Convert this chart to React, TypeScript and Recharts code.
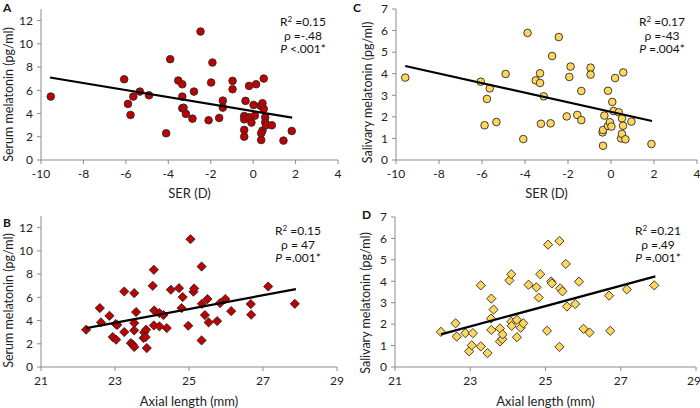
import React from 'react';
import { ScatterChart, Scatter, XAxis, YAxis } from 'recharts';

// Panel A: SER (D) vs serum melatonin
const serA = [-9.54,-6.08,-5.90,-5.78,-5.65,-5.34,-4.91,-4.10,-3.91,-3.53,-3.34,-3.34,-3.34,-3.28,-3.17,-2.79,-2.86,-2.48,-2.10,-1.98,-1.92,-1.60,-1.43,-1.43,-0.97,-0.97,-0.36,-0.42,-0.42,-0.42,-0.42,-0.19,-0.19,-0.08,0.02,0.08,0.14,0.35,0.44,0.50,0.50,0.57,0.57,0.44,0.38,0.38,0.61,0.88,1.43,1.82];
const serumA = [5.46,6.95,4.83,3.88,5.46,5.89,5.57,2.30,8.68,6.84,6.52,5.46,4.45,4.50,3.97,5.89,3.56,11.06,3.42,6.67,8.39,3.62,5.11,4.51,6.81,6.09,5.09,3.79,3.50,2.59,2.01,6.38,3.68,3.22,4.74,3.82,6.52,4.66,4.89,7.01,4.40,3.68,3.25,2.53,2.30,1.72,2.99,2.99,1.67,2.50];
const fitAX = [-9.58, 1.84];
const fitAY = [7.10, 3.65];

// Panel B: axial length vs serum melatonin
const alB = [22.22,22.59,22.62,22.85,22.94,23.03,23.02,23.06,23.25,23.25,23.43,23.48,23.52,23.52,23.52,23.52,23.57,23.77,23.79,23.84,23.83,23.86,24.02,24.05,24.06,24.05,24.20,24.20,24.31,24.40,24.51,24.73,24.80,24.83,24.98,25.04,25.12,25.14,25.34,25.35,25.34,25.43,25.50,25.53,25.76,25.84,25.98,26.14,26.67,26.68,27.14,27.86];
const serumB = [3.21,5.07,3.84,4.41,2.58,2.35,3.70,3.62,6.50,3.01,2.06,1.92,1.72,3.15,3.78,6.36,4.73,2.49,2.98,3.21,2.58,1.63,6.99,8.37,4.87,3.58,4.64,3.50,4.47,3.35,6.65,6.79,5.07,6.02,3.55,11.0,6.48,6.76,8.65,5.44,2.29,4.47,5.85,3.84,3.95,5.50,5.85,4.81,5.42,4.50,6.93,5.44];
const fitBX = [22.22, 27.89];
const fitBY = [3.35, 6.70];

// Panel C: SER (D) vs salivary melatonin
const serC = [-9.57,-6.06,-5.88,-5.77,-5.64,-5.33,-4.90,-4.08,-3.88,-3.50,-3.30,-3.30,-3.13,-3.26,-2.81,-2.74,-2.43,-2.06,-1.94,-1.88,-1.57,-1.38,-1.38,-0.95,-0.95,-0.39,-0.37,-0.37,-0.31,-0.14,-0.14,-0.05,0.02,0.06,0.12,0.19,0.36,0.47,0.51,0.51,0.56,0.57,0.67,0.95,1.88];
const salivaC = [3.82,3.63,1.61,2.83,3.32,1.76,3.99,0.97,5.89,3.69,4.02,3.57,2.95,1.68,1.70,4.82,5.70,2.02,3.85,4.33,2.09,3.20,1.85,4.28,3.96,1.28,1.39,0.66,2.06,3.21,1.58,1.75,1.55,2.69,2.27,3.80,2.21,1.00,1.93,1.21,1.59,4.06,0.96,1.78,0.74];
const fitCX = [-9.57, 1.91];
const fitCY = [4.36, 1.81];

// Panel D: axial length vs salivary melatonin
const alD = [22.22,22.61,22.64,22.87,22.97,23.04,23.07,23.28,23.28,23.46,23.55,23.56,23.56,23.62,23.79,23.79,23.85,23.86,24.04,24.09,24.09,24.10,24.24,24.24,24.34,24.41,24.55,24.76,24.82,24.86,25.04,25.07,25.15,25.17,25.37,25.37,25.39,25.45,25.54,25.57,25.79,25.89,26.01,26.17,26.69,26.72,27.16,27.89];
const salivaD = [1.64,2.04,1.42,1.58,0.73,1.01,1.58,3.81,0.96,0.65,2.26,3.19,1.73,2.68,1.80,1.19,1.30,1.52,4.04,4.33,2.11,1.92,2.20,1.39,1.83,2.04,3.84,3.72,3.24,4.33,1.69,5.71,3.99,3.90,5.88,0.94,3.67,3.53,4.81,2.82,2.94,3.98,1.78,1.61,3.33,1.69,3.62,3.81];
const fitDX = [22.22, 27.92];
const fitDY = [1.52, 4.23];

const serTicks = [-10, -8, -6, -4, -2, 0, 2, 4];
const alTicks = [21, 23, 25, 27, 29];
const serumTicks = [0, 2, 4, 6, 8, 10, 12];
const salivaTicks = [0, 1, 2, 3, 4, 5, 6, 7];

const zip = (xs: number[], ys: number[]) => xs.map((x, i) => ({ x, y: ys[i] }));

const FONT = 'Lato, "Open Sans", sans-serif';
const RED = '#C00000';
const YEL = '#FFD55C';
const AXIS = '#8c8c8c';

const Circle = (fill: string) => (p: any) => (
  <circle cx={p.cx} cy={p.cy} r={3.8} fill={fill} stroke="#2a2a2a" strokeWidth={0.9} />
);
const Diamond = (fill: string) => (p: any) => {
  const r = 4.6;
  const { cx, cy } = p;
  return (
    <polygon
      points={`${cx},${cy - r} ${cx + r},${cy} ${cx},${cy + r} ${cx - r},${cy}`}
      fill={fill}
      stroke="#2a2a2a"
      strokeWidth={0.9}
    />
  );
};
const Nothing = () => <g />;

const YLabel = (text: string, cx: number, shift: number) => (props: any) => {
  const vb = props.viewBox || {};
  const x = (vb.x || 0) + cx;
  const y = (vb.y || 0) + (vb.height || 0) / 2 + shift;
  return (
    <text x={x} y={y} transform={`rotate(-90, ${x}, ${y})`} textAnchor="middle" dominantBaseline="central"
      fill="#222" fontSize={12.5} fontFamily={FONT}>{text}</text>
  );
};

type PanelProps = {
  left: number; top: number; width: number; height: number;
  marginTop: number; marginRight: number; yWidth: number; xHeight: number;
  pts: { x: number; y: number }[]; fit: { x: number; y: number }[];
  xDomain: [number, number]; xTicks: number[]; yDomain: [number, number]; yTicks: number[];
  xLabel: string; yLabel: string; yLabelX: number; yLabelShift: number;
  shape: any;
};

const Panel = (p: PanelProps) => (
  <div style={{ position: 'absolute', left: p.left, top: p.top }}>
    <ScatterChart width={p.width} height={p.height}
      margin={{ top: p.marginTop, right: p.marginRight, bottom: 0, left: 0 }}>
      <XAxis type="number" dataKey="x" domain={p.xDomain} ticks={p.xTicks}
        allowDataOverflow height={p.xHeight} stroke={AXIS} tickSize={4} tickMargin={5}
        tick={{ fill: '#222', fontSize: 12, fontFamily: FONT }}
        label={{ value: p.xLabel, position: 'insideBottom', offset: 2, fill: '#222', fontSize: 13, fontFamily: FONT }} />
      <YAxis type="number" dataKey="y" domain={p.yDomain} ticks={p.yTicks}
        allowDataOverflow width={p.yWidth} stroke={AXIS} tickSize={4} tickMargin={4}
        tick={{ fill: '#222', fontSize: 12, fontFamily: FONT }}
        label={{ content: YLabel(p.yLabel, p.yLabelX, p.yLabelShift) }} />
      <Scatter data={p.pts} shape={p.shape} isAnimationActive={false} />
      <Scatter data={p.fit} shape={Nothing} line={{ stroke: '#000', strokeWidth: 2.2 }} isAnimationActive={false} />
    </ScatterChart>
  </div>
);

const Stats = ({ x, y, r2, rho, p }: { x: number; y: number; r2: string; rho: string; p: string }) => (
  <div style={{ position: 'absolute', left: x - 40, top: y, width: 80, textAlign: 'center', fontFamily: FONT, fontSize: 12, lineHeight: '13.5px', color: '#111' }}>
    <div>R<sup style={{ fontSize: 8, verticalAlign: 'top', lineHeight: '8px' }}>2</sup> ={r2}</div>
    <div>ρ {rho}</div>
    <div><i>P</i> {p}</div>
  </div>
);

const Letter = ({ x, y, t }: { x: number; y: number; t: string }) => (
  <div style={{ position: 'absolute', left: x, top: y, fontFamily: FONT, fontWeight: 'bold', fontSize: 12, lineHeight: '14px', color: '#111' }}>{t}</div>
);

export default function App() {
  return (
    <div style={{ position: 'absolute', left: 0, top: 0, width: 700, height: 408, background: '#fff', overflow: 'hidden' }}>
      <Panel left={0} top={0} width={350} height={200} marginTop={9} marginRight={12} yWidth={41} xHeight={40}
        pts={zip(serA, serumA)} fit={zip(fitAX, fitAY)} xDomain={[-10, 4]} xTicks={serTicks}
        yDomain={[0, 13]} yTicks={serumTicks} xLabel="SER (D)" yLabel="Serum melatonin (pg/ml)" yLabelX={8} yLabelShift={10}
        shape={Circle(RED)} />
      <Panel left={350} top={0} width={350} height={200} marginTop={9} marginRight={3} yWidth={46} xHeight={40}
        pts={zip(serC, salivaC)} fit={zip(fitCX, fitCY)} xDomain={[-10, 4]} xTicks={serTicks}
        yDomain={[0, 7]} yTicks={salivaTicks} xLabel="SER (D)" yLabel="Salivary melatonin (pg/ml)" yLabelX={17} yLabelShift={8}
        shape={Circle(YEL)} />
      <Panel left={0} top={200} width={350} height={208} marginTop={16} marginRight={13} yWidth={41} xHeight={41}
        pts={zip(alB, serumB)} fit={zip(fitBX, fitBY)} xDomain={[21, 29]} xTicks={alTicks}
        yDomain={[0, 13]} yTicks={serumTicks} xLabel="Axial length (mm)" yLabel="Serum melatonin (pg/ml)" yLabelX={8} yLabelShift={9}
        shape={Diamond(RED)} />
      <Panel left={350} top={200} width={350} height={208} marginTop={17} marginRight={4} yWidth={45} xHeight={41}
        pts={zip(alD, salivaD)} fit={zip(fitDX, fitDY)} xDomain={[21, 29]} xTicks={alTicks}
        yDomain={[0, 7]} yTicks={salivaTicks} xLabel="Axial length (mm)" yLabel="Salivary melatonin (pg/ml)" yLabelX={15} yLabelShift={11}
        shape={Diamond(YEL)} />
      <Stats x={303} y={15} r2="0.15" rho="=-.48" p="<.001*" />
      <Stats x={662} y={15} r2="0.17" rho="=-43" p="=.004*" />
      <Stats x={298} y={224} r2="0.15" rho="= 47" p="=.001*" />
      <Stats x={658} y={224} r2="0.21" rho="=.49" p="=.001*" />
      <Letter x={3} y={1} t="A" />
      <Letter x={353} y={1} t="C" />
      <Letter x={3} y={216} t="B" />
      <Letter x={362} y={208} t="D" />
    </div>
  );
}
